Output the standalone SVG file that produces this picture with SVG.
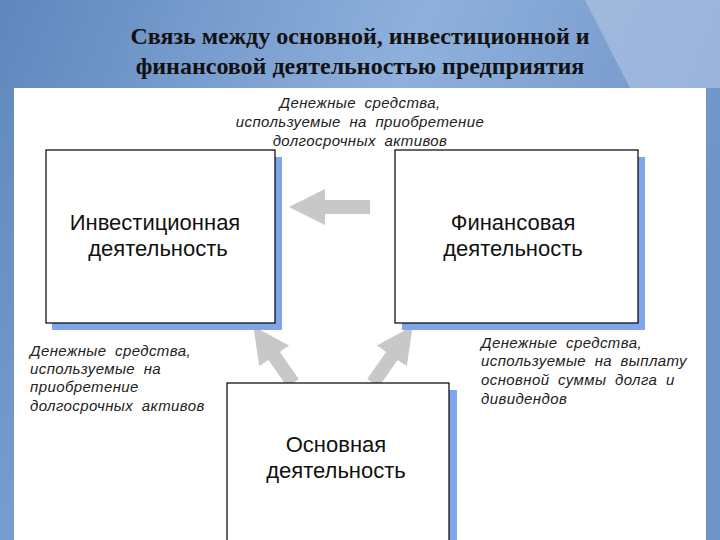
<svg xmlns="http://www.w3.org/2000/svg" width="720" height="540" viewBox="0 0 720 540">
<defs>
<linearGradient id="bg" x1="0" y1="0" x2="1" y2="0.3">
<stop offset="0" stop-color="#5f87bd"/><stop offset="0.55" stop-color="#8fb0dc"/><stop offset="1" stop-color="#6f94c8"/>
</linearGradient>
<marker id="ah" viewBox="0 0 10 10" refX="2" refY="5" markerWidth="2.6" markerHeight="2.6" orient="auto" markerUnits="strokeWidth"><path d="M0,0 L10,5 L0,10 z" fill="#c8c8c8"/></marker>
</defs>
<style>
.box{fill:#fff;stroke:#000;stroke-width:1.2}
.sh{fill:#7fa6ea}
.t{font-family:"Liberation Sans",Arial,sans-serif;font-size:22px;fill:#111;text-anchor:middle}
.l{font-family:"Liberation Sans",Arial,sans-serif;font-size:15px;font-style:italic;fill:#222;word-spacing:4px;letter-spacing:0.4px}
.ttl{font-family:"Liberation Serif","Times New Roman",serif;font-size:24px;font-weight:bold;fill:#111;text-anchor:middle}
.ar{stroke:#c8c8c8;stroke-width:14;fill:none;marker-end:url(#ah)}
</style>
<rect width="720" height="540" fill="url(#bg)"/>
<path d="M585,0 L720,0 L720,88 L630,88 Z" fill="#b4c8e4" opacity="0.6"/>
<text class="ttl" x="360" y="44">Связь между основной, инвестиционной и</text>
<text class="ttl" x="360" y="74">финансовой деятельностью предприятия</text>
<rect x="14" y="88" width="692" height="452" fill="#fff"/>
<g id="connectors">
<line class="ar" x1="370" y1="207" x2="318" y2="207"/>
<line class="ar" x1="293" y1="383" x2="270" y2="350"/>
<line class="ar" x1="373" y1="383" x2="396" y2="350"/>
</g>
<g id="invest"><rect class="sh" x="52" y="157" width="230" height="173"/><rect class="box" x="46" y="150" width="229" height="173"/>
<text class="t" x="155" y="230">Инвестиционная</text><text class="t" x="158" y="256">деятельность</text></g>
<g id="finance"><rect class="sh" x="402" y="157" width="243" height="173"/><rect class="box" x="395" y="150" width="243" height="173"/>
<text class="t" x="513" y="230">Финансовая</text><text class="t" x="513" y="256">деятельность</text></g>
<g id="basic"><rect class="sh" x="234" y="390" width="223" height="160"/><rect class="box" x="227" y="383" width="222" height="160"/>
<text class="t" x="336" y="452">Основная</text><text class="t" x="336" y="478">деятельность</text></g>
<g id="labels">
<text class="l" x="360" y="108" text-anchor="middle">Денежные средства,</text>
<text class="l" x="360" y="127" text-anchor="middle">используемые на приобретение</text>
<text class="l" x="360" y="146" text-anchor="middle">долгосрочных активов</text>
<text class="l" x="30" y="356">Денежные средства,</text>
<text class="l" x="30" y="374">используемые на</text>
<text class="l" x="30" y="392">приобретение</text>
<text class="l" x="30" y="411">долгосрочных активов</text>
<text class="l" x="481" y="348">Денежные средства,</text>
<text class="l" x="481" y="366">используемые на выплату</text>
<text class="l" x="481" y="385">основной суммы долга и</text>
<text class="l" x="481" y="404">дивидендов</text>
</g>
</svg>
